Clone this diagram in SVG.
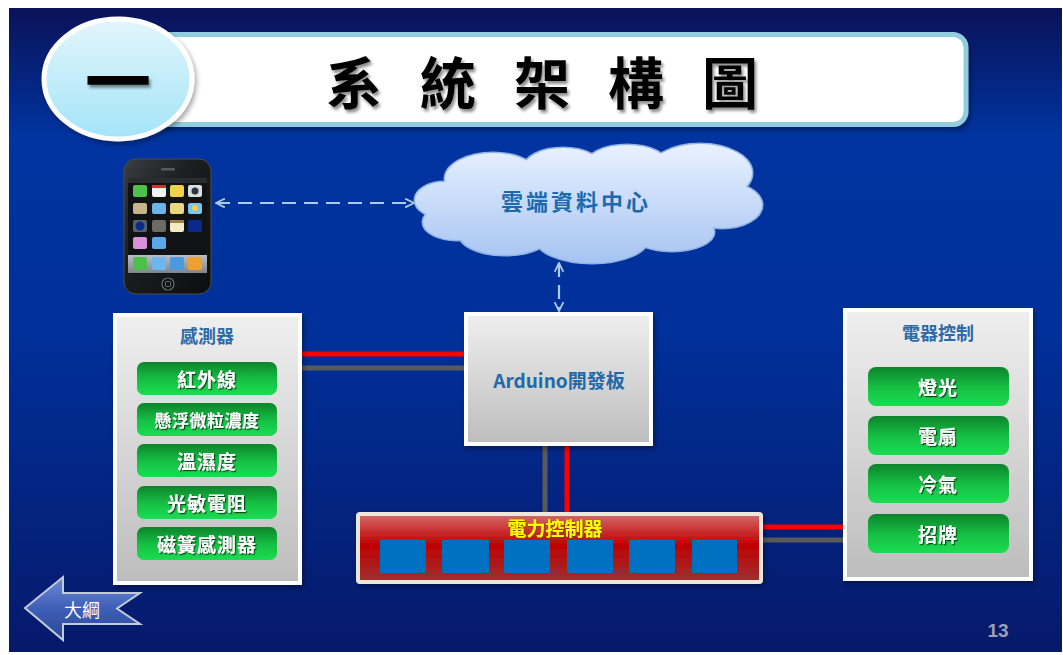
<svg xmlns="http://www.w3.org/2000/svg" width="1063" height="655" viewBox="0 0 1063 655">
  <defs>
    <linearGradient id="bg" x1="0" y1="0" x2="0" y2="1">
      <stop offset="0" stop-color="#0a1258"/>
      <stop offset="0.2" stop-color="#0034a0"/>
      <stop offset="0.5" stop-color="#00309a"/>
      <stop offset="1" stop-color="#06196a"/>
    </linearGradient>
    <linearGradient id="badge" x1="0" y1="0" x2="0" y2="1">
      <stop offset="0" stop-color="#e2f6fc"/>
      <stop offset="1" stop-color="#a4e4f8"/>
    </linearGradient>
    <linearGradient id="panel" x1="0" y1="0" x2="0" y2="1">
      <stop offset="0" stop-color="#efefef"/>
      <stop offset="1" stop-color="#bdbdbd"/>
    </linearGradient>
    <linearGradient id="btn" x1="0" y1="0" x2="0" y2="1">
      <stop offset="0" stop-color="#0d842c"/>
      <stop offset="0.55" stop-color="#16c244"/>
      <stop offset="1" stop-color="#1bdc52"/>
    </linearGradient>
    <linearGradient id="power" x1="0" y1="0" x2="0" y2="1">
      <stop offset="0" stop-color="#d46c6c"/>
      <stop offset="0.45" stop-color="#c00000"/>
      <stop offset="1" stop-color="#9c3232"/>
    </linearGradient>
    <linearGradient id="cloudFill" gradientUnits="userSpaceOnUse" x1="0" y1="145" x2="0" y2="263">
      <stop offset="0" stop-color="#e8f1ff"/>
      <stop offset="1" stop-color="#a6c4f2"/>
    </linearGradient>
    <linearGradient id="phoneBody" x1="0" y1="0" x2="1" y2="1">
      <stop offset="0" stop-color="#3a3e42"/>
      <stop offset="0.4" stop-color="#1c1e20"/>
      <stop offset="1" stop-color="#0c0d0e"/>
    </linearGradient>
    <linearGradient id="dock" x1="0" y1="0" x2="0" y2="1">
      <stop offset="0" stop-color="#b8bec6"/>
      <stop offset="1" stop-color="#7e858e"/>
    </linearGradient>
    <linearGradient id="backFill" x1="0" y1="0" x2="0" y2="1">
      <stop offset="0" stop-color="#6e8ad6"/>
      <stop offset="0.5" stop-color="#3e5fb8"/>
      <stop offset="1" stop-color="#2a4696"/>
    </linearGradient>
    <marker id="chev" viewBox="0 0 10 10" refX="9" refY="5" markerUnits="userSpaceOnUse" markerWidth="11" markerHeight="11" orient="auto-start-reverse">
      <path d="M1 1 L9 5 L1 9" fill="none" stroke="#a9cde9" stroke-width="1.6"/>
    </marker>
    <filter id="titleShadow" x="-10%" y="-20%" width="130%" height="150%">
      <feDropShadow dx="2" dy="3" stdDeviation="1.5" flood-color="#000" flood-opacity="0.45"/>
    </filter>
    <filter id="boxShadow" x="-10%" y="-10%" width="130%" height="130%">
      <feDropShadow dx="2" dy="3" stdDeviation="2.5" flood-color="#000" flood-opacity="0.35"/>
    </filter>
    <filter id="btnText" x="-10%" y="-20%" width="130%" height="150%">
      <feDropShadow dx="1.2" dy="1.2" stdDeviation="0.6" flood-color="#063d12" flood-opacity="0.9"/>
    </filter>
    <filter id="glowText" x="-10%" y="-30%" width="120%" height="160%">
      <feDropShadow dx="0.8" dy="0.8" stdDeviation="0.7" flood-color="#7a3a00" flood-opacity="0.9"/>
    </filter>
  </defs>
  <style>
    .cjk { font-family: "Noto Sans CJK TC", "Noto Sans CJK SC", sans-serif; }
    .panel { fill: url(#panel); stroke: #ffffff; stroke-width: 4; filter: url(#boxShadow); }
    .btn { fill: url(#btn); }
    .btnLabel { fill: #ffffff; font-weight: bold; font-size: 19px; letter-spacing: 1px; text-anchor: middle; dominant-baseline: central; filter: url(#btnText); }
    .panelTitle { fill: #2c6aa8; font-weight: bold; font-size: 18px; text-anchor: middle; dominant-baseline: central; }
    .relay { fill: #0070c0; }
    .red { stroke: #ff0000; stroke-width: 5; fill: none; }
    .gray { stroke: #5a5a5a; stroke-width: 5; fill: none; }
    .link { stroke: #a9cde9; stroke-width: 2.2; stroke-dasharray: 14 8; fill: none; marker-start: url(#chev); marker-end: url(#chev); }
    .cloudPart { fill: url(#cloudFill); }
  </style>

  <!-- page background -->
  <rect width="1063" height="655" fill="#ffffff"/>
  <rect x="9" y="8" width="1053" height="644" fill="url(#bg)"/>

  <!-- heading -->
  <g id="heading">
    <rect x="128" y="34.5" width="838" height="90" rx="13" fill="#ffffff" stroke="#92cddf" stroke-width="5" filter="url(#boxShadow)"/>
    <text class="cjk" x="354 401 448 495 542 589 636 683 730" y="79" font-size="56" font-weight="bold" text-anchor="middle" dominant-baseline="central" fill="#000" filter="url(#titleShadow)" xml:space="preserve">系 統 架 構 圖</text>
    <ellipse cx="118" cy="79" rx="74" ry="60" fill="url(#badge)" stroke="#ffffff" stroke-width="5" filter="url(#boxShadow)"/>
    <text class="cjk" x="118" y="77" font-size="66" font-weight="bold" text-anchor="middle" dominant-baseline="central" fill="#000" filter="url(#titleShadow)">一</text>
  </g>

  <!-- connectors -->
  <g id="connectors">
    <line class="link" x1="216" y1="203" x2="414" y2="203"/>
    <line class="link" x1="559" y1="263" x2="559" y2="311"/>
    <line class="red" x1="302" y1="354" x2="465" y2="354"/>
    <line class="gray" x1="302" y1="368" x2="465" y2="368"/>
    <line class="gray" x1="545" y1="445" x2="545" y2="513"/>
    <line class="red" x1="567" y1="445" x2="567" y2="513"/>
    <line class="red" x1="762" y1="527" x2="844" y2="527"/>
    <line class="gray" x1="762" y1="540" x2="844" y2="540"/>
  </g>

  <!-- smartphone -->
  <g id="phone">
    <rect x="124" y="159" width="87" height="135" rx="12" fill="url(#phoneBody)" stroke="#4a4e52" stroke-width="1"/>
    <rect x="161" y="168" width="14" height="2.5" rx="1" fill="#555a60"/>
    <rect x="128" y="178" width="79" height="96" fill="#101214"/>
    <rect x="128" y="178" width="79" height="5" fill="#2a2d30"/>
    <!-- app icons -->
    <rect x="133" y="185" width="14" height="12" rx="2" fill="#4cc04a"/>
    <rect x="152" y="185" width="14" height="12" rx="2" fill="#f2f2f2"/>
    <rect x="152" y="185" width="14" height="3" fill="#d83030"/>
    <rect x="170" y="185" width="14" height="12" rx="2" fill="#f2d04a"/>
    <rect x="188" y="185" width="14" height="12" rx="2" fill="#d8dde2"/>
    <circle cx="195" cy="191" r="3.5" fill="#2b3440"/>
    <rect x="133" y="203" width="14" height="11" rx="2" fill="#c8b48a"/>
    <rect x="152" y="203" width="14" height="11" rx="2" fill="#6ab4ea"/>
    <rect x="170" y="203" width="14" height="11" rx="2" fill="#e8d880"/>
    <rect x="188" y="203" width="14" height="11" rx="2" fill="#7ac4f0"/>
    <circle cx="195" cy="208" r="3" fill="#f6d040"/>
    <rect x="133" y="220" width="14" height="12" rx="2" fill="#5a6068"/>
    <circle cx="140" cy="226" r="4.5" fill="#0a2a8a"/>
    <rect x="152" y="220" width="14" height="12" rx="2" fill="#6c6a64"/>
    <rect x="170" y="220" width="14" height="12" rx="2" fill="#f4ecc0"/>
    <rect x="170" y="220" width="14" height="3" fill="#a08050"/>
    <rect x="188" y="220" width="14" height="12" rx="2" fill="#0a2a8a"/>
    <rect x="133" y="237" width="14" height="12" rx="2" fill="#d890d8"/>
    <rect x="152" y="237" width="14" height="12" rx="2" fill="#5aa8ec"/>
    <rect x="128" y="255" width="79" height="18" fill="url(#dock)"/>
    <rect x="133" y="257" width="14" height="13" rx="2" fill="#4cc04a"/>
    <rect x="152" y="257" width="14" height="13" rx="2" fill="#6ab8f0"/>
    <rect x="170" y="257" width="14" height="13" rx="2" fill="#4a9ae0"/>
    <rect x="188" y="257" width="14" height="13" rx="2" fill="#f0a030"/>
    <circle cx="168" cy="284" r="6" fill="#0e0f10" stroke="#6a6e72" stroke-width="1.2"/>
    <rect x="165.5" y="281.5" width="5" height="5" rx="1" fill="none" stroke="#8a8e92" stroke-width="0.8"/>
  </g>

  <!-- cloud data centre -->
  <g id="cloud">
    <g stroke="#8fb2e2" stroke-width="3">
      <ellipse class="cloudPart" cx="445" cy="200" rx="30" ry="18"/>
      <ellipse class="cloudPart" cx="457" cy="222" rx="34" ry="18"/>
      <ellipse class="cloudPart" cx="505" cy="234" rx="46" ry="21"/>
      <ellipse class="cloudPart" cx="592" cy="239" rx="56" ry="24"/>
      <ellipse class="cloudPart" cx="672" cy="232" rx="42" ry="19"/>
      <ellipse class="cloudPart" cx="722" cy="205" rx="40" ry="23"/>
      <ellipse class="cloudPart" cx="700" cy="173" rx="52" ry="29"/>
      <ellipse class="cloudPart" cx="627" cy="166" rx="42" ry="21"/>
      <ellipse class="cloudPart" cx="563" cy="169" rx="40" ry="21"/>
      <ellipse class="cloudPart" cx="493" cy="179" rx="48" ry="26"/>
    </g>
    <g>
      <ellipse class="cloudPart" cx="445" cy="200" rx="30" ry="18"/>
      <ellipse class="cloudPart" cx="457" cy="222" rx="34" ry="18"/>
      <ellipse class="cloudPart" cx="505" cy="234" rx="46" ry="21"/>
      <ellipse class="cloudPart" cx="592" cy="239" rx="56" ry="24"/>
      <ellipse class="cloudPart" cx="672" cy="232" rx="42" ry="19"/>
      <ellipse class="cloudPart" cx="722" cy="205" rx="40" ry="23"/>
      <ellipse class="cloudPart" cx="700" cy="173" rx="52" ry="29"/>
      <ellipse class="cloudPart" cx="627" cy="166" rx="42" ry="21"/>
      <ellipse class="cloudPart" cx="563" cy="169" rx="40" ry="21"/>
      <ellipse class="cloudPart" cx="493" cy="179" rx="48" ry="26"/>
      <ellipse class="cloudPart" cx="590" cy="205" rx="140" ry="40"/>
    </g>
    <text class="cjk" x="576" y="200" font-size="22" font-weight="bold" letter-spacing="3" text-anchor="middle" dominant-baseline="central" fill="#1b6ab0">雲端資料中心</text>
  </g>

  <!-- sensor panel -->
  <g id="sensors">
    <rect class="panel" x="115" y="315" width="185" height="268"/>
    <text class="cjk panelTitle" x="207" y="335">感測器</text>
    <rect class="btn" x="137" y="362" width="140" height="33" rx="7"/>
    <text class="cjk btnLabel" x="207" y="378.5">紅外線</text>
    <rect class="btn" x="137" y="403" width="140" height="33" rx="7"/>
    <text class="cjk btnLabel" x="207" y="419.5" style="font-size:17px;letter-spacing:0.5px">懸浮微粒濃度</text>
    <rect class="btn" x="137" y="444" width="140" height="33" rx="7"/>
    <text class="cjk btnLabel" x="207" y="460.5">溫濕度</text>
    <rect class="btn" x="137" y="486" width="140" height="33" rx="7"/>
    <text class="cjk btnLabel" x="207" y="502.5">光敏電阻</text>
    <rect class="btn" x="137" y="527" width="140" height="33" rx="7"/>
    <text class="cjk btnLabel" x="207" y="543.5">磁簧感測器</text>
  </g>

  <!-- controller board -->
  <g id="arduino">
    <rect class="panel" x="466" y="314" width="185" height="130"/>
    <text class="cjk" x="559" y="379" font-size="19" font-weight="bold" text-anchor="middle" dominant-baseline="central" fill="#1e6aaa">Arduino開發板</text>
  </g>

  <!-- power controller -->
  <g id="power-controller">
    <rect x="358" y="514" width="403" height="68" rx="2" fill="url(#power)" stroke="#ebe7dc" stroke-width="4" filter="url(#boxShadow)"/>
    <text class="cjk" x="555" y="527" font-size="19" font-weight="bold" text-anchor="middle" dominant-baseline="central" fill="#ffff00" filter="url(#glowText)">電力控制器</text>
    <rect class="relay" x="380" y="540" width="46" height="33"/>
    <rect class="relay" x="442" y="540" width="47" height="33"/>
    <rect class="relay" x="504" y="540" width="46" height="33"/>
    <rect class="relay" x="567" y="540" width="46" height="33"/>
    <rect class="relay" x="629" y="540" width="46" height="33"/>
    <rect class="relay" x="692" y="540" width="45" height="33"/>
  </g>

  <!-- appliance panel -->
  <g id="appliances">
    <rect class="panel" x="845" y="310" width="186" height="269"/>
    <text class="cjk panelTitle" x="938" y="332">電器控制</text>
    <rect class="btn" x="868" y="367" width="141" height="39" rx="8"/>
    <text class="cjk btnLabel" x="938" y="386.5">燈光</text>
    <rect class="btn" x="868" y="416" width="141" height="39" rx="8"/>
    <text class="cjk btnLabel" x="938" y="435.5">電扇</text>
    <rect class="btn" x="868" y="464" width="141" height="39" rx="8"/>
    <text class="cjk btnLabel" x="938" y="483.5">冷氣</text>
    <rect class="btn" x="868" y="514" width="141" height="39" rx="8"/>
    <text class="cjk btnLabel" x="938" y="533.5">招牌</text>
  </g>

  <!-- back button -->
  <g id="back">
    <path d="M25 608 L63 577 L63 593 L140 593 L117 608.5 L140 624 L63 624 L63 640 Z" fill="url(#backFill)" stroke="#c4cbd8" stroke-width="2" stroke-linejoin="miter"/>
    <text class="cjk" x="82" y="609" font-size="18" text-anchor="middle" dominant-baseline="central" fill="#ffffff">大綱</text>
  </g>

  <!-- page number -->
  <text x="998" y="637" font-family="'Liberation Sans', Arial, sans-serif" font-size="19" font-weight="bold" text-anchor="middle" fill="#9da0b2">13</text>
</svg>
